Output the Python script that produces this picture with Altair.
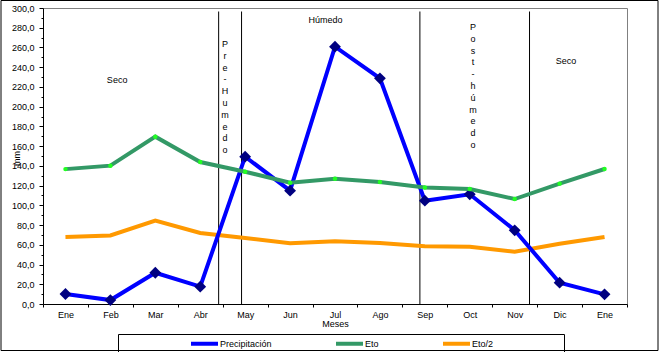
import altair as alt
import pandas as pd

# ---- data ----
months = ["Ene", "Feb", "Mar", "Abr", "May", "Jun", "Jul", "Ago", "Sep", "Oct", "Nov", "Dic", "Ene"]
precipitacion = [10.1, 4.0, 31.7, 17.6, 149.3, 114.9, 260.8, 228.7, 104.7, 111.2, 74.7, 21.6, 9.8]
eto = [136.7, 140.2, 169.6, 143.9, 134.1, 123.0, 127.0, 123.6, 118.0, 116.6, 106.4, 122.0, 136.8]
eto_half = [68.0, 69.5, 84.6, 72.0, 67.0, 61.5, 63.5, 61.8, 58.5, 58.0, 53.0, 61.0, 68.0]

series_names = ["Precipitación", "Eto", "Eto/2"]
series_colors = ["#0000FF", "#339966", "#FF9900"]

# period boundaries (in month-index units) and period annotations
period_bounds = [3.41, 3.92, 7.89, 10.33]
period_labels = ["Seco", "Húmedo", "Seco"]
period_label_x = [1.15, 5.79, 11.14]
period_label_y = [227, 288, 246]
vertical_labels = ["Pre-Humedo", "Post-húmedo"]
vertical_label_x = [3.55, 9.07]
vertical_label_y = [263.5, 280.7]

FONT = "Liberation Sans"

idx = list(range(len(months)))
rows = []
for name, vals in zip(series_names, [precipitacion, eto, eto_half]):
    for i, v in zip(idx, vals):
        rows.append({"i": i, "mes": months[i], "serie": name, "valor": v})
df = pd.DataFrame(rows)

x_values = [k / 2 for k in range(-1, 2 * len(months))]
month_expr = "[" + ",".join("'" + m + "'" for m in months) + "]"

x_scale = alt.Scale(domain=[-0.5, len(months) - 0.5], nice=False, zero=False)
y_scale = alt.Scale(domain=[0, 300], nice=False)

x_axis = alt.Axis(
    values=x_values,
    labelExpr="datum.value % 1 === 0 ? " + month_expr + "[datum.value] : ''",
    tickOpacity=alt.condition("datum.value % 1 === 0", alt.value(0), alt.value(1)),
    tickSize=3, labelPadding=3, labelFont=FONT, labelFontSize=9, labelColor="black",
    labelOverlap=False, labelFlush=False, grid=False, domainColor="black", tickColor="black",
    title="Meses", titleFont=FONT, titleFontSize=9, titleFontWeight="normal",
    titleColor="black", titleY=19, titleBaseline="middle",
)
y_axis = alt.Axis(
    values=list(range(0, 301, 10)),
    labelExpr="datum.value % 20 === 0 ? replace(format(datum.value, '.1f'), '.', ',') : ''",
    tickSize=alt.condition("datum.value % 20 === 0", alt.value(4), alt.value(2)),
    labelPadding=5, labelFont=FONT, labelFontSize=9, labelColor="black",
    labelOverlap=False, labelFlush=False, grid=False, domainColor="black", tickColor="black",
    title="mm", titleFont=FONT, titleFontSize=9, titleFontWeight="normal", titleColor="black",
    titleX=-27, titleY=150, titleAngle=270, titleAlign="center", titleBaseline="middle",
)

x_enc = alt.X("i:Q", scale=x_scale, axis=x_axis)
y_enc = alt.Y("valor:Q", scale=y_scale, axis=y_axis)

lines = alt.Chart(df).mark_line(strokeWidth=4).encode(
    x=x_enc,
    y=y_enc,
    color=alt.Color(
        "serie:N",
        scale=alt.Scale(domain=series_names, range=series_colors),
        legend=alt.Legend(
            orient="none", legendX=146, legendY=320, direction="horizontal", columns=3,
            title=None, symbolType="stroke", symbolSize=729, symbolStrokeWidth=4,
            labelFont=FONT, labelFontSize=9, labelColor="black", labelOffset=0,
            columnPadding=56, padding=0,
        ),
    ),
    order=alt.Order("i:Q"),
)

diamonds = alt.Chart(df).transform_filter(alt.datum.serie == "Precipitación").mark_point(
    shape="diamond", filled=True, size=140, color="#000080", opacity=1
).encode(x=x_enc, y=y_enc)

dots = alt.Chart(df).transform_filter(alt.datum.serie == "Eto").mark_point(
    shape="circle", filled=True, size=20, color="#22FF22", opacity=1
).encode(x=x_enc, y=y_enc)

bounds_df = pd.DataFrame({"b": period_bounds})
bound_rules = alt.Chart(bounds_df).mark_rule(color="black", strokeWidth=1).encode(
    x=alt.X("b:Q", scale=x_scale, axis=x_axis), y=alt.value(3.5), y2=alt.value(296)
)

lab_df = pd.DataFrame({"t": period_labels, "x": period_label_x, "y": period_label_y})
labels = alt.Chart(lab_df).mark_text(font=FONT, fontSize=9, color="black").encode(
    x=alt.X("x:Q", scale=x_scale, axis=x_axis), y=alt.Y("y:Q", scale=y_scale, axis=y_axis),
    text="t:N"
)

vlab_df = pd.DataFrame({
    "t": [list(s) for s in vertical_labels],
    "x": vertical_label_x,
    "y": vertical_label_y,
})
vlabels = alt.Chart(vlab_df).mark_text(
    font=FONT, fontSize=9, color="black", lineHeight=11.8, baseline="middle"
).encode(
    x=alt.X("x:Q", scale=x_scale, axis=x_axis), y=alt.Y("y:Q", scale=y_scale, axis=y_axis),
    text="t"
)

one = pd.DataFrame({"k": [0]})
outer_frame = alt.Chart(one).mark_rect(fillOpacity=0, stroke="black", strokeWidth=1).encode(
    x=alt.value(-42), x2=alt.value(615), y=alt.value(-7.5), y2=alt.value(342.5)
)
legend_frame = alt.Chart(one).mark_rect(fillOpacity=0, stroke="black", strokeWidth=1).encode(
    x=alt.value(75.5), x2=alt.value(521.5), y=alt.value(326.5), y2=alt.value(345)
)

chart = alt.layer(
    bound_rules, lines.transform_filter(alt.datum.serie == "Eto/2"),
    lines.transform_filter(alt.datum.serie == "Precipitación"), diamonds,
    lines.transform_filter(alt.datum.serie == "Eto"), dots,
    labels, vlabels, legend_frame, outer_frame,
).properties(
    width=584, height=296,
    padding={"left": 43, "top": 8, "right": 33, "bottom": 48},
    autosize=alt.AutoSizeParams(type="none"),
).configure_view(stroke="#808080", strokeWidth=1).configure_axis(
    labelOverlap=False, labelFlush=False
)

chart.save("out.html", embed_options={"renderer": "svg", "actions": False})
